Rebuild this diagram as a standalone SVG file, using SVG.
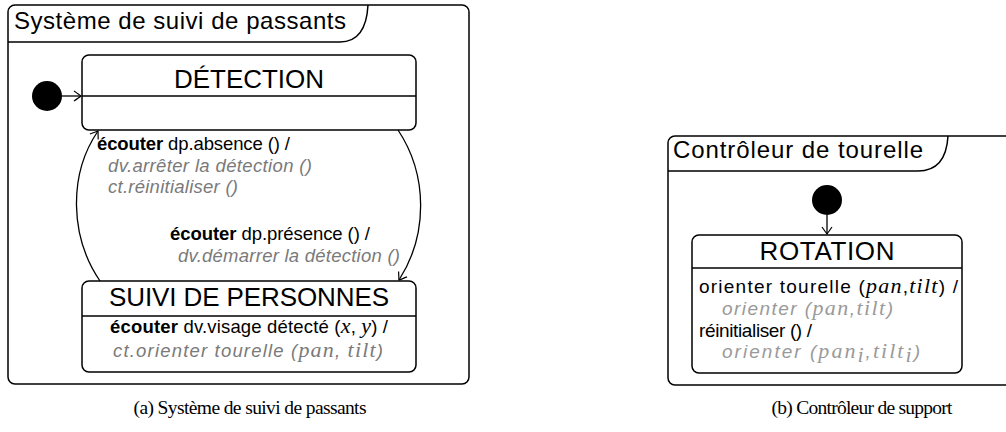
<svg xmlns="http://www.w3.org/2000/svg" width="1006" height="432" viewBox="0 0 1006 432">
<style>
.frame{fill:none;stroke:#000;stroke-width:1.5}
.box{fill:#fff;stroke:#000;stroke-width:1.5}
.edge{fill:none;stroke:#000;stroke-width:1.3}
.sans{font-family:"Liberation Sans","DejaVu Sans",sans-serif;fill:#000}
.title{font-size:24px}
.state{font-size:26px;text-anchor:middle}
.lbl{font-size:18.5px}
.lbl2{font-size:19px}
.act{font-style:italic;fill:#7a7a7a}
.act2{font-style:italic;fill:#9a9a9a}
.m{font-family:"Liberation Serif","DejaVu Serif",serif;font-style:italic;font-size:22px}
.cap{font-family:"Liberation Serif","DejaVu Serif",serif;font-size:19.5px;text-anchor:middle;fill:#000}
</style>
<defs>
<marker id="arr" markerUnits="userSpaceOnUse" markerWidth="14" markerHeight="14" refX="0" refY="0" viewBox="-8 -7 10 14" orient="auto" overflow="visible">
<path d="M-7,-5 Q-2,-1.5 0,0 Q-2,1.5 -7,5" fill="none" stroke="#000" stroke-width="1.2"/>
</marker>
</defs>

<g id="frame-a">
<rect class="frame" x="8" y="5" width="461" height="379" rx="7"/>
<path class="frame" d="M8,42 H340 Q366,42 368,5"/>
<text class="sans title" x="14" y="29" textLength="332">Système de suivi de passants</text>
</g>

<g id="init-a">
<circle cx="47" cy="96" r="15" fill="#000"/>
</g>

<g id="detection">
<rect class="box" x="82" y="55" width="334" height="75" rx="7"/>
<line class="frame" x1="82" y1="96" x2="416" y2="96"/>
<text class="sans state" x="249" y="88" textLength="150">DÉTECTION</text>
</g>

<g id="suivi">
<rect class="box" x="82" y="281" width="334" height="91" rx="7"/>
<line class="frame" x1="82" y1="316" x2="416" y2="316"/>
<text class="sans state" x="249" y="306" textLength="280">SUIVI DE PERSONNES</text>
<text class="sans lbl" x="249" y="333" text-anchor="middle" textLength="278"><tspan font-weight="bold">écouter</tspan> dv.visage détecté (<tspan class="m">x</tspan>, <tspan class="m">y</tspan>) /</text>
<text class="sans lbl act" x="248" y="357" text-anchor="middle" textLength="270">ct.orienter tourelle (<tspan class="m">pan</tspan>, <tspan class="m">tilt</tspan>)</text>
</g>

<g id="frame-b">
<rect class="frame" x="668" y="136" width="352" height="249" rx="7"/>
<path class="frame" d="M668,171 H918 Q946,171 948,136"/>
<text class="sans title" x="673" y="158" textLength="250">Contrôleur de tourelle</text>
</g>

<g id="init-b">
<circle cx="827" cy="200" r="15" fill="#000"/>
</g>

<g id="rotation">
<rect class="box" x="692" y="235" width="270" height="138" rx="7"/>
<line class="frame" x1="692" y1="268" x2="962" y2="268"/>
<text class="sans state" x="827" y="260" textLength="135">ROTATION</text>
<text class="sans lbl2" x="699" y="293" textLength="259">orienter tourelle (<tspan class="m">pan</tspan>,<tspan class="m">tilt</tspan>) /</text>
<text class="sans lbl2 act2" x="722" y="315" textLength="171">orienter (<tspan class="m">pan</tspan>,<tspan class="m">tilt</tspan>)</text>
<text class="sans lbl2" x="699" y="337" textLength="113">réinitialiser () /</text>
<text class="sans lbl2 act2" x="722" y="358" textLength="198">orienter (<tspan class="m">pan</tspan><tspan class="m" font-size="15" dy="4">i</tspan><tspan dy="-4">,</tspan><tspan class="m">tilt</tspan><tspan class="m" font-size="15" dy="4">i</tspan><tspan dy="-4">)</tspan></text>
</g>

<g id="connectors">
<line class="edge" x1="62" y1="96" x2="81" y2="96" marker-end="url(#arr)"/>
<line class="edge" x1="827" y1="215" x2="827" y2="234" marker-end="url(#arr)"/>
<path class="edge" d="M100,281 C70,237 68,175 98,131" marker-end="url(#arr)"/>
<path class="edge" d="M398,130 C428,175 428,235 399,280" marker-end="url(#arr)"/>
</g>

<g id="labels">
<text class="sans lbl" x="97" y="150" textLength="193"><tspan font-weight="bold">écouter</tspan> dp.absence () /</text>
<text class="sans lbl act" x="108" y="172" textLength="204">dv.arrêter la détection ()</text>
<text class="sans lbl act" x="108" y="193" textLength="130">ct.réinitialiser ()</text>
<text class="sans lbl" x="170" y="240" textLength="200"><tspan font-weight="bold">écouter</tspan> dp.présence () /</text>
<text class="sans lbl act" x="178" y="262" textLength="222">dv.démarrer la détection ()</text>
</g>

<g id="captions">
<text class="cap" x="250" y="414" textLength="233">(a) Système de suivi de passants</text>
<text class="cap" x="862" y="414" textLength="181">(b) Contrôleur de support</text>
</g>
</svg>
